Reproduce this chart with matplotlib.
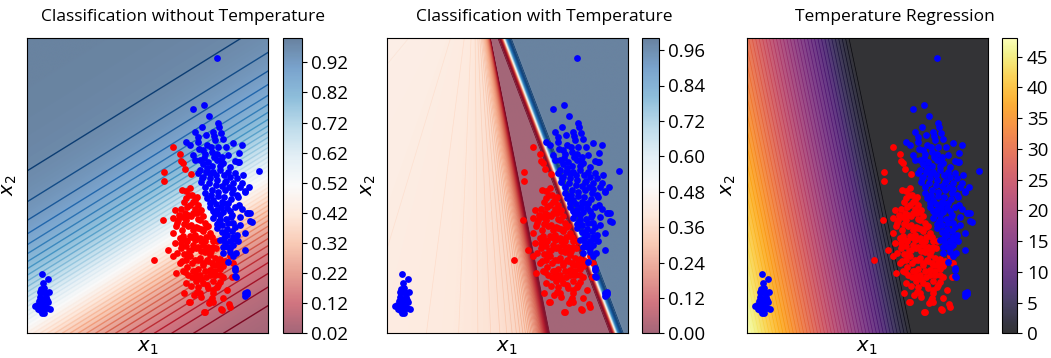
import numpy as np
import matplotlib
matplotlib.use("Agg")
import matplotlib.pyplot as plt
from matplotlib.colors import Normalize

# --- DATA (x1, x2 in plot units) ---
red_pts = [
    (146, 186), (153, 179), (154, 172), (156, 170), (158, 164), (137, 161), (137, 152),
    (164, 159), (155, 143), (159, 142), (163, 145), (165, 138), (159, 135), (168, 133),
    (171, 128), (148, 123), (154, 124), (158, 120), (146, 115), (136, 113), (151, 113),
    (159, 113), (164, 117), (169, 120), (174, 123), (173, 113), (178, 110), (149, 107),
    (155, 103), (161, 107), (166, 103), (171, 105), (176, 102), (181, 107), (146, 100),
    (153, 95), (158, 93), (163, 97), (168, 93), (173, 95), (178, 92), (183, 97), (186, 92),
    (141, 83), (154, 85), (159, 87), (164, 83), (169, 85), (174, 82), (179, 84), (184, 82),
    (189, 85), (127, 73), (146, 77), (153, 70), (159, 73), (165, 70), (171, 73), (176, 70),
    (181, 72), (186, 68), (191, 70), (196, 67), (203, 77), (206, 70), (149, 60), (156, 62),
    (161, 58), (168, 62), (173, 58), (178, 62), (183, 58), (188, 62), (193, 58), (164, 47),
    (169, 52), (176, 50), (181, 45), (191, 48), (193, 51), (186, 40), (173, 40), (184, 33),
    (163, 31), (177, 21), (194, 24), (202, 29), (160, 78), (158, 61), (165, 56), (170, 41),
    (186, 43), (200, 43), (205, 56), (162, 31), (185, 35), (186, 31), (196, 35), (178, 21),
    (195, 23), (203, 26),
    (163, 128), (168, 124), (172, 121), (160, 126), (157, 131), (166, 131), (170, 136),
    (162, 138), (176, 117), (171, 114), (166, 120), (161, 118), (156, 116), (164, 108),
    (169, 106), (174, 104), (179, 106), (157, 109), (152, 118), (150, 110), (168, 98),
    (164, 96), (160, 92), (156, 97), (174, 92), (179, 96), (183, 100), (176, 88), (171, 86),
    (166, 88), (162, 82), (181, 86), (186, 86), (190, 92), (185, 96), (178, 81), (173, 75),
    (168, 73), (163, 77), (157, 79), (183, 78), (188, 75), (193, 74), (180, 73), (176, 68),
    (171, 64), (166, 62), (185, 70), (190, 68), (194, 70), (183, 63), (188, 58), (179, 56),
    (174, 54), (169, 57), (160, 66), (155, 72), (150, 80), (148, 90), (154, 90), (193, 64),
    (198, 72), (186, 52), (180, 48), (196, 56), (171, 46), (159, 50), (190, 46), (174, 36),
    (167, 38), (182, 30), (157, 40),
]

blue_pts = [
    (190, 275), (166, 224), (177, 228), (182, 217), (191, 210), (192, 206), (168, 201),
    (186, 201), (196, 194), (159, 191), (163, 188), (171, 191), (180, 188), (188, 193),
    (176, 183), (185, 181), (190, 179), (195, 176), (215, 188), (211, 171), (232, 162),
    (166, 178), (173, 173), (181, 171), (190, 173), (196, 170), (203, 166), (208, 160),
    (216, 158), (173, 163), (180, 165), (186, 161), (193, 163), (203, 156), (176, 156),
    (183, 155), (190, 153), (198, 151), (206, 150), (213, 146), (218, 141), (211, 136),
    (223, 120), (225, 111), (220, 120), (178, 146), (185, 143), (191, 141), (198, 143),
    (205, 140), (180, 135), (186, 133), (195, 131), (201, 130), (208, 126), (183, 126),
    (190, 123), (196, 121), (205, 118), (213, 116), (186, 115), (193, 113), (201, 110),
    (208, 106), (190, 105), (195, 101), (200, 98), (206, 96), (193, 93), (198, 90),
    (201, 86), (196, 80), (203, 81), (218, 83), (208, 65), (209, 56), (218, 40), (220, 41),
    (212, 171), (218, 142), (221, 120), (223, 112), (208, 94), (203, 85), (208, 63),
    (208, 57), (218, 37), (220, 39), (206, 77),
    (172, 184), (178, 179), (184, 186), (191, 186), (176, 169), (185, 167), (193, 167),
    (171, 160), (179, 161), (189, 158), (197, 158), (201, 161), (174, 151), (182, 150),
    (189, 148), (195, 147), (202, 146), (178, 140), (184, 138), (191, 137), (197, 136),
    (204, 134), (183, 130), (189, 129), (194, 126), (200, 125), (188, 119), (193, 118),
    (199, 114), (204, 116), (190, 109), (195, 108), (200, 104), (205, 102), (197, 95),
    (203, 92), (210, 98), (212, 128), (215, 150), (210, 155), (222, 146), (208, 172),
    (201, 178), (212, 180), (199, 186), (206, 190), (171, 196), (179, 198), (187, 197),
    (194, 200), (175, 206), (168, 173), (177, 175), (187, 176), (194, 172), (183, 160),
    (175, 155), (199, 152), (206, 144), (210, 138), (186, 122), (196, 130), (203, 122),
    (192, 112), (198, 100), (206, 110), (215, 124), (213, 108), (218, 100), (196, 86),
    (206, 88), (211, 92), (209, 80), (201, 71),
    # small cluster bottom-left
    (15, 59), (21, 54), (17, 45), (13, 41), (18, 40), (22, 41), (13, 36), (17, 34),
    (21, 31), (10, 28), (15, 29), (18, 27), (23, 24), (13, 23), (17, 20), (15, 20),
    (8, 27), (20, 25), (16, 50), (14, 44), (19, 36), (12, 32), (20, 33), (16, 25), (11, 24),
]

x1_max, x2_max = 241, 295

# plain classifier: logit = a*x1 + b*x2 + c
clf_plain = (-0.62 / 43, 1 / 43, -5 / 43)
# temperature regression: T = k*(t0 - x1 - tb*x2), clipped at 0
temp_k, temp_t0, temp_b = 0.289, 166, 0.21
# classifier used with temperature: g = m*(x1 + gb*x2 - g0)
clf_m, clf_b, clf_0 = 0.07, 0.38, 230
temp_eps = 0.1

plain_ticks = np.arange(0.02, 0.93, 0.1)
temp_clf_ticks = np.arange(0.0, 0.97, 0.12)
temp_ticks = np.arange(0, 46, 5)

red = np.array(red_pts, dtype=float)
blue = np.array(blue_pts, dtype=float)

xx, yy = np.meshgrid(np.linspace(0, x1_max, 700), np.linspace(0, x2_max, 800))


def sigmoid(z):
    return 1 / (1 + np.exp(-np.clip(z, -60, 60)))


p_plain = sigmoid(clf_plain[0] * xx + clf_plain[1] * yy + clf_plain[2])
temp = np.maximum(temp_k * (temp_t0 - xx - temp_b * yy), 0)
g = clf_m * (xx + clf_b * yy - clf_0)
p_temp = sigmoid(g / (temp + temp_eps))

plt.rcParams['font.family'] = ['Open Sans', 'DejaVu Sans']
plt.rcParams['mathtext.fontset'] = 'dejavusans'

W, H = 1051, 358
fig = plt.figure(figsize=(W / 100, H / 100), dpi=100)


def px_ax(left, width):
    return [left / W, (H - 333.3) / H, width / W, 295 / H]


ax1 = fig.add_axes(px_ax(27.3, 241))
cax1 = fig.add_axes(px_ax(282.7, 19))
ax2 = fig.add_axes(px_ax(386.7, 241))
cax2 = fig.add_axes(px_ax(641.7, 17))
ax3 = fig.add_axes(px_ax(746.7, 241))
cax3 = fig.add_axes(px_ax(1001.7, 15.5))

ext = (0, x1_max, 0, x2_max)
norm1 = Normalize(0.02, 1.0)
norm2 = Normalize(0.0, 1.0)
norm3 = Normalize(0.0, 48.0)

im1 = ax1.imshow(p_plain, extent=ext, origin='lower', aspect='auto', cmap='RdBu',
                 norm=norm1, alpha=0.6, interpolation='bilinear')
ax1.contour(xx, yy, p_plain, levels=np.arange(0.025, 1.0, 0.025), cmap='RdBu',
            norm=norm1, linewidths=1.0)

im2 = ax2.imshow(p_temp, extent=ext, origin='lower', aspect='auto', cmap='RdBu',
                 norm=norm2, alpha=0.6, interpolation='bilinear')
ax2.contour(xx, yy, p_temp, levels=np.arange(0.01, 1.0, 0.01), cmap='RdBu',
            norm=norm2, linewidths=0.5)

im3 = ax3.imshow(temp, extent=ext, origin='lower', aspect='auto', cmap='inferno',
                 norm=norm3, alpha=0.8, interpolation='bilinear')
ax3.contour(xx, yy, temp, levels=np.arange(0.5, 48, 1.0), cmap='inferno',
            norm=norm3, linewidths=0.5, alpha=0.85)

for ax in (ax1, ax2, ax3):
    ax.scatter(red[:, 0], red[:, 1], s=24, c='red', linewidths=0, zorder=3)
    ax.scatter(blue[:, 0], blue[:, 1], s=24, c='blue', linewidths=0, zorder=3)
    ax.set_xlim(0, x1_max)
    ax.set_ylim(0, x2_max)
    ax.set_xticks([])
    ax.set_yticks([])
    ax.set_xlabel('$x_1$', fontsize=14, labelpad=4)
    ax.set_ylabel('$x_2$', fontsize=14)
    ax.yaxis.set_label_coords(-0.035, 0.5)

for im, cax, ticks, fmt in ((im1, cax1, plain_ticks, '{:.2f}'),
                            (im2, cax2, temp_clf_ticks, '{:.2f}'),
                            (im3, cax3, temp_ticks, '{:.0f}')):
    cb = fig.colorbar(im, cax=cax)
    cb.set_ticks(ticks)
    cb.set_ticklabels([fmt.format(t) for t in ticks])
    cb.ax.tick_params(labelsize=13.5)

titles = ['Classification without Temperature', 'Classification with Temperature',
          'Temperature Regression']
for cx, t in zip((182.6, 544, 895), titles):
    fig.text(cx / W, 1 - 17 / H, t, ha='center', va='center', fontsize=12.5)

fig.savefig('out.png', dpi=100)
